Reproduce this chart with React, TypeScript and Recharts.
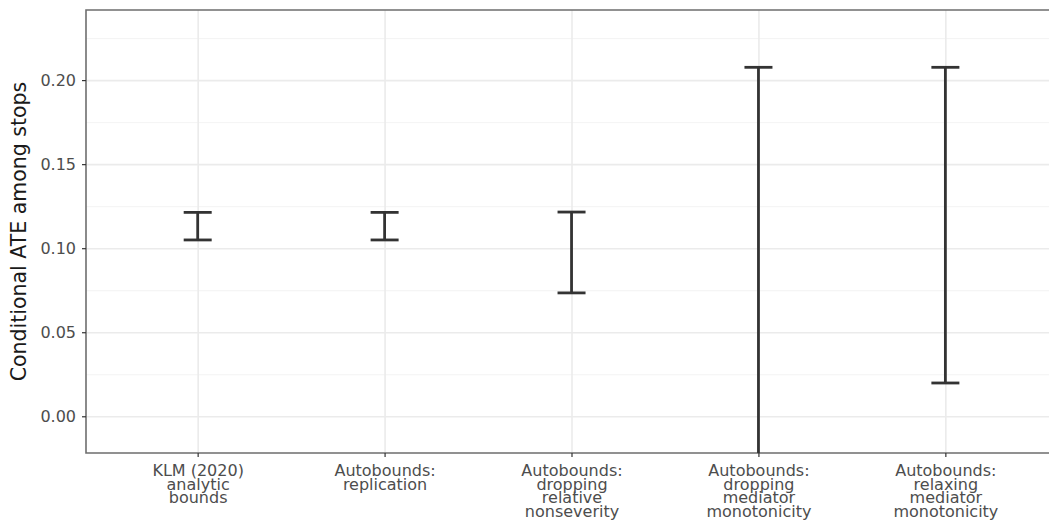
import React from "react";
import {
  ComposedChart,
  Bar,
  XAxis,
  YAxis,
  CartesianGrid,
  ReferenceArea,
} from "recharts";

const categoryLabels: string[][] = [
  ["KLM (2020)", "analytic", "bounds"],
  ["Autobounds:", "replication"],
  ["Autobounds:", "dropping", "relative", "nonseverity"],
  ["Autobounds:", "dropping", "mediator", "monotonicity"],
  ["Autobounds:", "relaxing", "mediator", "monotonicity"],
];
const lowerBounds = [0.1052, 0.1052, 0.0737, -0.04, 0.0201];
const upperBounds = [0.1216, 0.1216, 0.1218, 0.2079, 0.2079];

const yTicks = [0, 0.05, 0.1, 0.15, 0.2];
const yMinor = [0.025, 0.075, 0.125, 0.175, 0.225];
const yDomain: [number, number] = [-0.02155, 0.242];
const xDomain: [number, number] = [0.4, 5.6];
const xTicks = [1, 2, 3, 4, 5];

const data = categoryLabels.map((_, i) => ({
  x: i + 1,
  range: [lowerBounds[i], upperBounds[i]],
}));

const FONT = "'DejaVu Sans', sans-serif";

const XTick = (props: any) => {
  const { x, y, payload } = props;
  const lines = categoryLabels[payload.value - 1] || [];
  return (
    <text
      x={x}
      y={y}
      textAnchor="middle"
      fontFamily={FONT}
      fontSize={16}
      fill="#4D4D4D"
    >
      {lines.map((l, i) => (
        <tspan key={i} x={x} dy={i === 0 ? 17 : 13.7}>
          {l}
        </tspan>
      ))}
    </text>
  );
};

const YLabel = (props: any) => {
  const vb = props.viewBox || { x: 0, y: 0, width: 0, height: 0 };
  const cy = vb.y + vb.height / 2;
  const cx = 19;
  return (
    <text
      x={cx}
      y={cy}
      transform={`rotate(-90, ${cx}, ${cy})`}
      textAnchor="middle"
      dominantBaseline="central"
      fontFamily={FONT}
      fontSize={20.5}
      fill="#1a1a1a"
    >
      Conditional ATE among stops
    </text>
  );
};

const ErrorShape = (props: any) => {
  const { x, y, width, height } = props;
  if (x == null || y == null) return <g />;
  const cx = x + width / 2;
  const top = y;
  const bottom = y + height;
  const half = 14;
  return (
    <g stroke="#333333" strokeWidth={2.8} fill="none">
      <line x1={cx} x2={cx} y1={top} y2={bottom} />
      <line x1={cx - half} x2={cx + half} y1={top} y2={top} />
      <line x1={cx - half} x2={cx + half} y1={bottom} y2={bottom} />
    </g>
  );
};

export default function App() {
  return (
    <div style={{ width: 1049, height: 523, overflow: "hidden" }}>
      <style>{"body{margin:0;overflow:hidden}"}</style>
      <ComposedChart
        width={1070}
        height={523}
        data={data}
        margin={{ top: 10, right: 12, bottom: 10, left: 0 }}
      >
        <CartesianGrid
          horizontalValues={yMinor}
          vertical={false}
          stroke="#F2F2F2"
          strokeWidth={0.9}
          strokeDasharray=""
        />
        <CartesianGrid
          horizontalValues={yTicks}
          verticalValues={xTicks}
          stroke="#EBEBEB"
          strokeWidth={1.6}
          strokeDasharray=""
        />
        <XAxis
          type="number"
          dataKey="x"
          domain={xDomain}
          ticks={xTicks}
          allowDataOverflow
          height={60}
          axisLine={false}
          tickLine={{ stroke: "#333333", strokeWidth: 1.2 }}
          tickSize={4}
          tickMargin={2}
          tick={<XTick />}
          interval={0}
        />
        <YAxis
          type="number"
          domain={yDomain}
          ticks={yTicks}
          allowDataOverflow
          width={86}
          axisLine={false}
          tickLine={{ stroke: "#333333", strokeWidth: 1.2 }}
          tickSize={4}
          tickMargin={6}
          tickFormatter={(v: number) => v.toFixed(2)}
          tick={{ fontFamily: FONT, fontSize: 16, fill: "#4D4D4D" }}
          label={<YLabel />}
        />
        <Bar
          dataKey="range"
          barSize={28}
          isAnimationActive={false}
          shape={<ErrorShape />}
        />
        <ReferenceArea
          x1={xDomain[0]}
          x2={xDomain[1]}
          y1={yDomain[0]}
          y2={yDomain[1]}
          fill="none"
          stroke="#6E6E6E"
          strokeWidth={1.6}
          ifOverflow="visible"
        />
      </ComposedChart>
    </div>
  );
}
